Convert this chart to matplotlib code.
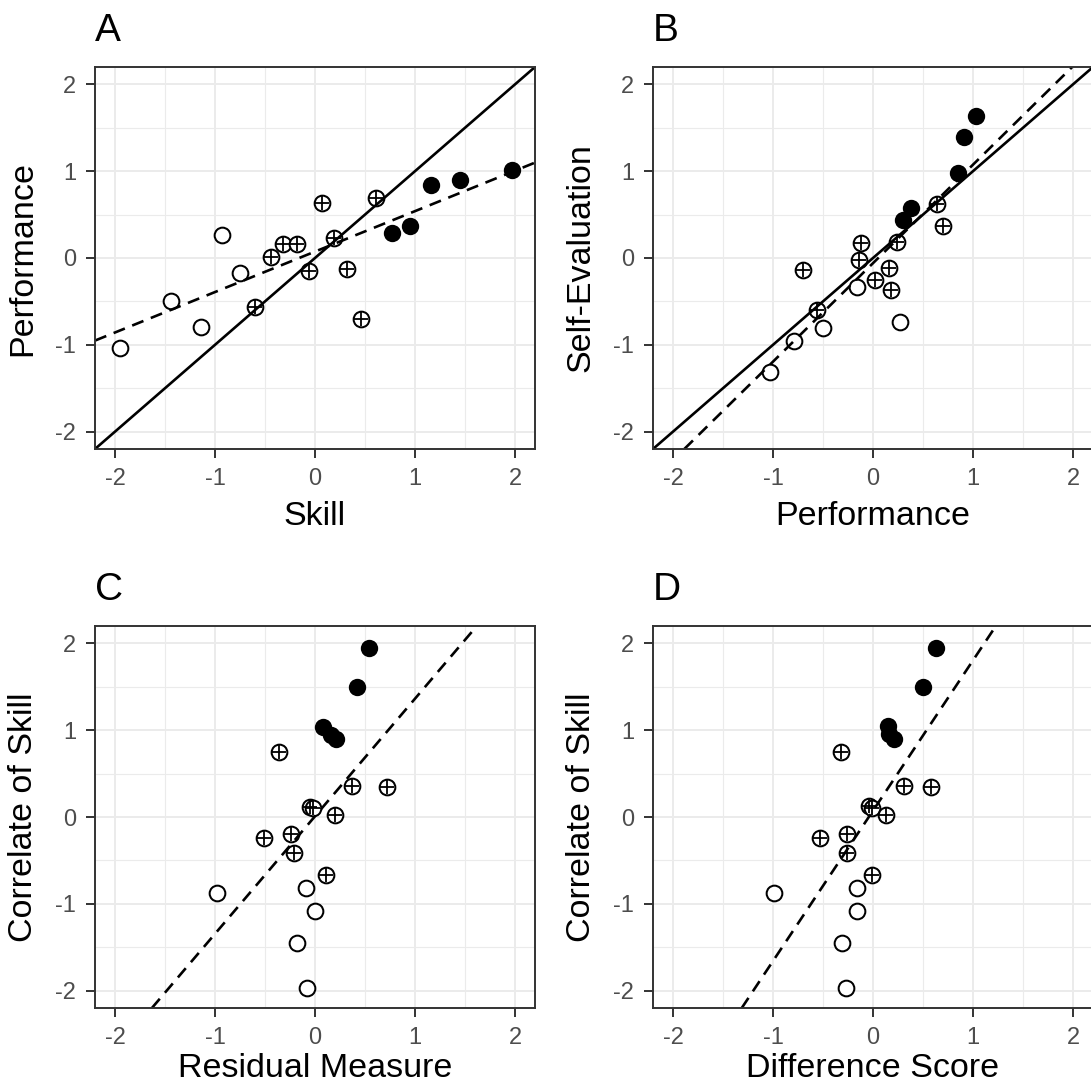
import numpy as np
import matplotlib.pyplot as plt
from matplotlib.ticker import MultipleLocator

plt.rcParams['font.family'] = ['Liberation Sans', 'DejaVu Sans']

# group of each point: low / middle / high skill
groups = ['low'] * 5 + ['mid'] * 10 + ['high'] * 5

# A: skill vs performance
a_x = [-1.953, -1.437, -1.143, -0.927, -0.747,
       -0.600, -0.443, -0.317, -0.177, -0.057, 0.067, 0.193, 0.323, 0.460, 0.607,
       0.767, 0.947, 1.157, 1.447, 1.973]
a_y = [-1.034, -0.494, -0.793, 0.264, -0.169,
       -0.567, 0.011, 0.165, 0.157, -0.146, 0.632, 0.234, -0.126, -0.705, 0.693,
       0.284, 0.372, 0.839, 0.904, 1.019]

# B: performance vs self-evaluation
b_x = [-1.027, -0.790, -0.500, -0.163, 0.273,
       -0.700, -0.557, -0.140, -0.117, 0.020, 0.163, 0.177, 0.240, 0.637, 0.697,
       0.297, 0.377, 0.847, 0.913, 1.030]
b_y = [-1.318, -0.958, -0.812, -0.337, -0.732,
       -0.134, -0.594, -0.023, 0.176, -0.249, -0.115, -0.372, 0.180, 0.617, 0.368,
       0.433, 0.571, 0.981, 1.391, 1.640]

# C: residual measure vs correlate of skill
c_x = [-0.983, -0.087, 0.003, -0.183, -0.080,
       -0.360, 0.373, 0.720, -0.050, -0.020, 0.203, -0.240, -0.513, -0.210, 0.110,
       0.537, 0.417, 0.080, 0.163, 0.213]
c_y = [-0.874, -0.816, -1.080, -1.456, -1.969,
       0.743, 0.352, 0.345, 0.120, 0.100, 0.023, -0.199, -0.241, -0.414, -0.667,
       1.946, 1.494, 1.042, 0.950, 0.897]

# D: difference score vs correlate of skill
d_x = [-0.993, -0.160, -0.157, -0.307, -0.270,
       -0.317, 0.307, 0.577, -0.040, -0.010, 0.133, -0.260, -0.530, -0.260, -0.013,
       0.627, 0.500, 0.150, 0.157, 0.213]
d_y = [-0.874, -0.816, -1.080, -1.456, -1.969,
       0.743, 0.356, 0.345, 0.126, 0.103, 0.023, -0.199, -0.241, -0.414, -0.667,
       1.946, 1.494, 1.050, 0.958, 0.897]

panels = [
    ('A', a_x, a_y, 'Skill', 'Performance', True),
    ('B', b_x, b_y, 'Performance', 'Self-Evaluation', True),
    ('C', c_x, c_y, 'Residual Measure', 'Correlate of Skill', False),
    ('D', d_x, d_y, 'Difference Score', 'Correlate of Skill', False),
]

W, H = 1091, 1089
fig = plt.figure(figsize=(W / 100, H / 100), dpi=100)

# panel boxes in pixels: left, top
boxes = [(95, 67), (653, 67), (95, 626), (653, 626)]
pw, ph = 440, 382


def draw_points(ax, xs, ys):
    xs = np.array(xs)
    ys = np.array(ys)
    g = np.array(groups)
    ms = 11.3
    lo = g == 'low'
    ax.plot(xs[lo], ys[lo], 'o', ms=ms, mfc='white', mec='black', mew=1.45,
            ls='none', zorder=3)
    mid = g == 'mid'
    ax.plot(xs[mid], ys[mid], 'o', ms=ms, mfc='white', mec='black', mew=1.45,
            ls='none', zorder=3)
    ax.plot(xs[mid], ys[mid], '+', ms=ms - 1.2, mec='black', mew=1.3,
            ls='none', zorder=3)
    hi = g == 'high'
    ax.plot(xs[hi], ys[hi], 'o', ms=ms + 1.2, mfc='black', mec='black', mew=0,
            ls='none', zorder=3)


for i, ((tag, xs, ys, xl, yl, ident), (left, top)) in enumerate(zip(panels, boxes)):
    ax = fig.add_axes([left / W, 1 - (top + ph) / H, pw / W, ph / H])
    ax.set_xlim(-2.2, 2.2)
    ax.set_ylim(-2.2, 2.2)
    ax.xaxis.set_major_locator(MultipleLocator(1))
    ax.yaxis.set_major_locator(MultipleLocator(1))
    ax.xaxis.set_minor_locator(MultipleLocator(0.5))
    ax.yaxis.set_minor_locator(MultipleLocator(0.5))
    ax.grid(which='major', color='#EBEBEB', lw=1.4, zorder=0)
    ax.grid(which='minor', color='#EBEBEB', lw=0.8, zorder=0)
    ax.set_axisbelow(True)
    ax.tick_params(which='minor', length=0)
    ax.tick_params(which='major', length=6.5, width=1.4, color='#333333',
                   labelsize=17, labelcolor='#4D4D4D', pad=7)
    for s in ax.spines.values():
        s.set_color('#333333')
        s.set_linewidth(1.4)
        s.set_zorder(5)
    ax.set_xticks([-2, -1, 0, 1, 2])
    ax.set_xticklabels(['-2', '-1', '0', '1', '2'])
    ax.set_yticks([-2, -1, 0, 1, 2])
    ax.set_yticklabels(['-2', '-1', '0', '1', '2'])

    draw_points(ax, xs, ys)

    if ident:
        ax.axline((0, 0), slope=1, color='black', lw=1.9, zorder=4)
    m, b = np.polyfit(xs, ys, 1)
    ax.axline((0, b), slope=m, color='black', lw=1.9, ls=(0, (4.6, 3.0)),
              zorder=4)

    ax.set_xlabel(xl, fontsize=24.5, labelpad=8 if i < 2 else 3)
    ax.set_ylabel(yl, fontsize=24.5, labelpad=12)
    ax.set_title(tag, loc='left', fontsize=28, pad=19)

fig.savefig('out.png', dpi=100)
